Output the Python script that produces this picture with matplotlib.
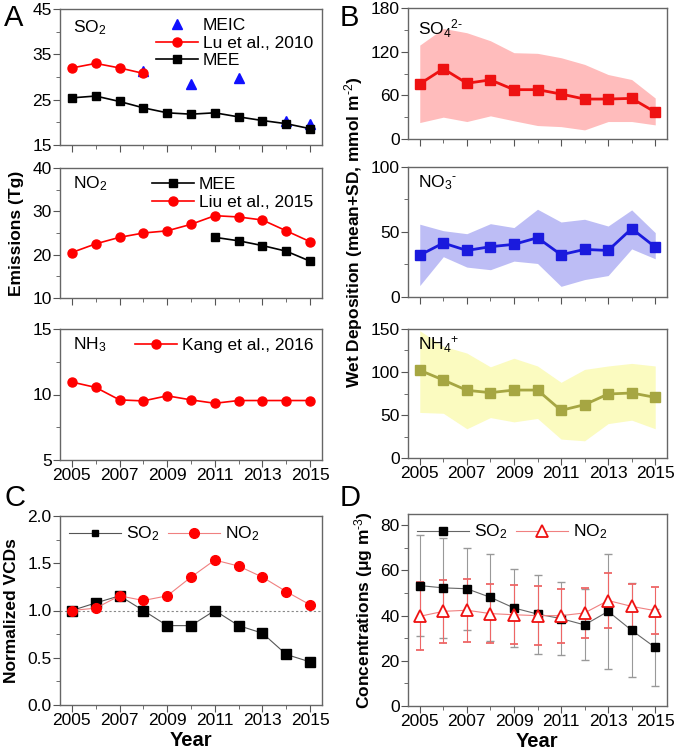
import matplotlib
matplotlib.use("Agg")
from matplotlib import pyplot as plt
from matplotlib.ticker import MultipleLocator
from matplotlib.lines import Line2D
import numpy as np

plt.rcParams['font.family'] = ['Liberation Sans', 'DejaVu Sans']
plt.rcParams['mathtext.fontset'] = 'custom'
plt.rcParams['mathtext.rm'] = 'Liberation Sans'
plt.rcParams['mathtext.it'] = 'Liberation Sans:italic'
plt.rcParams['mathtext.bf'] = 'Liberation Sans:bold'

years = np.arange(2005, 2016)

# A: emissions (Tg)
so2_mee = [25.4, 25.8, 24.6, 23.2, 22.1, 21.8, 22.1, 21.2, 20.4, 19.7, 18.6]
so2_lu_years = [2005, 2006, 2007, 2008]
so2_lu = [32.0, 33.0, 32.0, 30.8]
so2_meic_years = [2008, 2010, 2012, 2014, 2015]
so2_meic = [31.3, 28.5, 29.7, 20.4, 19.6]
no2_liu = [20.5, 22.5, 24.0, 25.0, 25.5, 27.0, 29.0, 28.7, 28.0, 25.5, 23.0]
no2_mee_years = [2011, 2012, 2013, 2014, 2015]
no2_mee = [24.0, 23.2, 22.1, 20.8, 18.5]
nh3_kang = [10.95, 10.54, 9.59, 9.51, 9.9, 9.59, 9.33, 9.54, 9.54, 9.54, 9.54]

# B: wet deposition (mean, upper, lower of SD band)
so4_mean = [75.7, 96.5, 76.6, 81.2, 67.8, 67.8, 61.8, 54.9, 54.9, 55.8, 36.9]
so4_hi = [129, 152, 146, 135, 118.6, 117.7, 111.7, 102.5, 88.6, 81.7, 56.3]
so4_lo = [22.6, 30, 24, 31.8, 25, 18.5, 17, 12.5, 24, 24, 19.4]
no3_mean = [32.2, 41.5, 35.8, 38.7, 40.5, 45.6, 32.5, 36.6, 35.8, 52.6, 38.4]
no3_hi = [56, 51, 48.7, 56.4, 53.4, 67.5, 57.7, 59.8, 54.6, 67, 49.5]
no3_lo = [8.8, 31, 23, 21, 27.6, 25.8, 8.2, 13.4, 16.5, 37, 29.4]
nh4_mean = [102, 90.7, 78.7, 76, 79, 79, 55.4, 62, 74.4, 75.6, 70.5]
nh4_hi = [148, 130, 122, 106, 116, 107, 88, 103, 107, 110, 107]
nh4_lo = [53, 52, 34, 47, 42, 46, 22, 20, 40, 44, 34]

# C: normalized VCDs
vcd_so2 = [1.0, 1.08, 1.155, 1.0, 0.84, 0.84, 1.0, 0.84, 0.76, 0.535, 0.456]
vcd_no2 = [1.0, 1.025, 1.155, 1.106, 1.155, 1.353, 1.534, 1.47, 1.353, 1.2, 1.06]

# D: surface concentrations (ug m-3)
conc_so2 = [53.3, 52.3, 51.9, 48.1, 43.4, 40.7, 38.7, 35.9, 41.9, 33.5, 25.9]
conc_so2_sd = [22.3, 22.0, 18.2, 19.2, 17.4, 17.5, 16.0, 15.7, 25.4, 20.8, 17.0]
conc_no2 = [39.7, 41.9, 42.4, 40.9, 40.4, 40.0, 40.0, 41.2, 46.7, 44.1, 42.2]
conc_no2_sd = [15, 14, 14, 13, 13, 13, 12, 11, 12, 10, 10.4]

W, H = 677, 756
fig = plt.figure(figsize=(W / 100, H / 100), dpi=100)
FS = 12.5


def box(l, t, r, b):
    return fig.add_axes([l / W, 1 - b / H, (r - l) / W, (b - t) / H])


def style(ax, ylo, yhi, major, minor, labels=False):
    ax.set_xlim(2004.5, 2015.5)
    ax.set_ylim(ylo, yhi)
    ax.set_xticks(years[::2])
    ax.set_xticks(years[1::2], minor=True)
    ax.set_yticks(np.arange(ylo, yhi + 1e-9, major))
    ax.yaxis.set_minor_locator(MultipleLocator(minor))
    ax.tick_params(which='both', top=False, right=False, direction='out',
                   labelsize=FS, color='#555555', pad=1)
    ax.tick_params(which='major', length=5)
    ax.tick_params(which='minor', length=3)
    for s in ax.spines.values():
        s.set_color('#666666')
        s.set_linewidth(1)
    if not labels:
        ax.set_xticklabels([])


red = '#ff0000'
leg_kw = dict(frameon=False, fontsize=FS, handlelength=2.4, handletextpad=0.3,
              labelspacing=0.15, borderaxespad=0.1)

# ---- A ----
a1 = box(60, 9, 322, 145)
style(a1, 15, 45, 10, 5)
a1.plot(so2_meic_years, so2_meic, '^', color='#1010ff', ms=7, ls='none', label='MEIC')
a1.plot(so2_lu_years, so2_lu, '-o', color=red, ms=6.5, lw=1.2, label='Lu et al., 2010')
a1.plot(years, so2_mee, '-s', color='black', ms=6, lw=1.2, label='MEE')
a1.legend(loc='upper right', **leg_kw)
a1.text(0.05, 0.93, 'SO$_2$', transform=a1.transAxes, fontsize=FS, va='top')

a2 = box(60, 168, 322, 298)
style(a2, 10, 40, 10, 5)
a2.plot(no2_mee_years, no2_mee, '-s', color='black', ms=6, lw=1.2, label='MEE')
a2.plot(years, no2_liu, '-o', color=red, ms=6.5, lw=1.2, label='Liu et al., 2015')
a2.legend(loc='upper right', **leg_kw)
a2.text(0.05, 0.95, 'NO$_2$', transform=a2.transAxes, fontsize=FS, va='top')
a2.set_ylabel('Emissions (Tg)', fontsize=FS, fontweight='bold', labelpad=6)

a3 = box(60, 329, 322, 460)
style(a3, 5, 15, 5, 2.5, labels=True)
a3.plot(years, nh3_kang, '-o', color=red, ms=6.5, lw=1.2, label='Kang et al., 2016')
a3.legend(loc='upper right', **leg_kw)
a3.text(0.05, 0.95, 'NH$_3$', transform=a3.transAxes, fontsize=FS, va='top')

# ---- B ----
b1 = box(408, 8, 667, 139)
style(b1, 0, 180, 60, 30)
b1.fill_between(years, so4_lo, so4_hi, color='#ffbcbc', lw=0)
b1.plot(years, so4_mean, '-s', color='#ee1111', ms=6.5, lw=2)
b1.text(0.04, 0.93, 'SO$_4$$^{2\\text{-}}$', transform=b1.transAxes, fontsize=FS, va='top')

b2 = box(408, 167, 667, 297)
style(b2, 0, 100, 50, 25)
b2.fill_between(years, no3_lo, no3_hi, color='#bdbdf5', lw=0)
b2.plot(years, no3_mean, '-s', color='#1a1add', ms=6.5, lw=2)
b2.text(0.04, 0.95, 'NO$_3$$^{\\text{-}}$', transform=b2.transAxes, fontsize=FS, va='top')
b2.set_ylabel('Wet Deposition (mean+SD, mmol m$^{\\text{-}2}$)', fontsize=FS,
              fontweight='bold', labelpad=4)

b3 = box(408, 329, 667, 458)
style(b3, 0, 150, 50, 25, labels=True)
b3.fill_between(years, nh4_lo, nh4_hi, color='#fbfbc0', lw=0)
b3.plot(years, nh4_mean, '-s', color='#a6a642', ms=6.5, lw=2)
b3.text(0.04, 0.96, 'NH$_4$$^{+}$', transform=b3.transAxes, fontsize=FS, va='top')

# ---- C ----
c = box(60, 516, 322, 705)
style(c, 0, 2.0, 0.5, 0.25, labels=True)
c.axhline(1.0, color='#888888', ls=(0, (2, 2)), lw=0.8)
c.plot(years, vcd_so2, '-s', color='#555555', mfc='black', mec='black', ms=6.5, lw=0.8)
c.plot(years, vcd_no2, '-o', color='#f08080', mfc=red, mec=red, ms=7, lw=0.8)
c_handles = [Line2D([], [], color='#555555', marker='s', mfc='black', mec='black', ms=4, lw=0.8),
             Line2D([], [], color='#f08080', marker='o', mfc=red, mec=red, ms=7, lw=0.8)]
c.legend(c_handles, ['SO$_2$', 'NO$_2$'], loc='upper left', ncol=2, frameon=False,
         fontsize=FS, handlelength=3.0, handletextpad=0.3, columnspacing=0.5,
         borderaxespad=0.1)
c.set_ylabel('Normalized VCDs', fontsize=FS, fontweight='bold', labelpad=6)
c.set_xlabel('Year', fontsize=14.5, fontweight='bold', labelpad=2)

# ---- D ----
d = box(408, 514, 667, 706)
style(d, 0, 85, 20, 10, labels=True)
d.set_yticks([0, 20, 40, 60, 80])
d.errorbar(years, conc_so2, yerr=conc_so2_sd, fmt='-s', color='#666666', mfc='black',
           mec='black', ms=6, lw=0.8, elinewidth=0.8, ecolor='#999999', capsize=3)
d.errorbar(years, conc_no2, yerr=conc_no2_sd, fmt='-^', color='#f08080', mfc='white',
           mec='#ee1111', mew=1.3, ms=9, lw=0.8, elinewidth=0.8, ecolor='#ee6666',
           capsize=3)
d_handles = [Line2D([], [], color='#666666', marker='s', mfc='black', mec='black', ms=6, lw=0.8),
             Line2D([], [], color='#f08080', marker='^', mfc='white', mec='#ee1111',
                    mew=1.3, ms=9, lw=0.8)]
d.legend(d_handles, ['SO$_2$', 'NO$_2$'], loc='upper left', ncol=2, frameon=False,
         fontsize=FS, handlelength=3.0, handletextpad=0.3, columnspacing=0.5,
         borderaxespad=0.1)
d.set_ylabel('Concentrations (\u03bcg m$^{\\text{-}3}$)', fontsize=FS, fontweight='bold', labelpad=4)
d.set_xlabel('Year', fontsize=14.5, fontweight='bold', labelpad=2)

# panel letters
for lab, x, y in [('A', 4, 4), ('B', 340, 4), ('C', 4, 484), ('D', 340, 484)]:
    fig.text(x / W, 1 - y / H, lab, fontsize=21, va='top', ha='left')

fig.savefig('out.png', dpi=100)
